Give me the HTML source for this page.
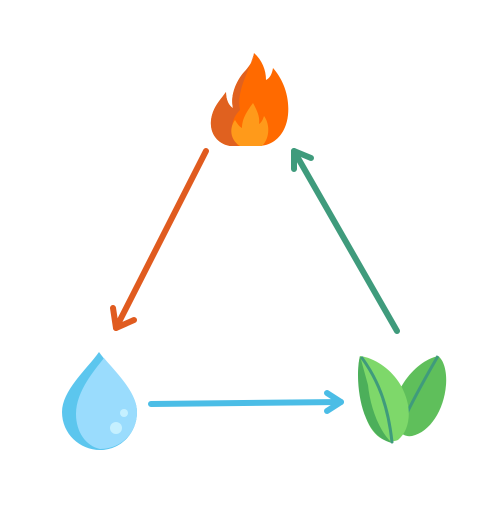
<!DOCTYPE html>
<html><head><style>html,body{margin:0;padding:0;background:#fff}</style></head>
<body>
<svg width="500" height="500" viewBox="0 0 500 500" xmlns="http://www.w3.org/2000/svg">
<g fill="none" stroke-linecap="round" stroke-linejoin="round" stroke-width="6">
  <g stroke="#e05b1f">
    <line x1="206" y1="151" x2="116" y2="328"/>
    <polyline points="113,308 116,328 134,320"/>
  </g>
  <g stroke="#4bbde6">
    <line x1="151" y1="404" x2="341" y2="402"/>
    <polyline points="327,393 341,402 327,411"/>
  </g>
  <g stroke="#3f9b7c">
    <line x1="397" y1="331" x2="294" y2="151"/>
    <polyline points="294,169 294,151 311,158"/>
  </g>
</g>
<!-- fire -->
<path d="M230,146 C214,143 207,128 213,112 C216,104 221,99 226,92 C226,100 229,106 233,108 C230,96 236,80 246,70 C252,63 254,57 254,53 C262,60 266,70 266,80 C270,78 272,74 273,68 C282,78 290,95 288,115 C286,134 274,146 258,146 Z" fill="#ff6a00"/>
<path d="M230,146 C214,143 207,128 213,112 C216,104 221,99 226,92 C226,100 229,106 233,108 C230,96 236,80 246,70 C252,63 254,57 254,53 C250,70 236,90 240,110 C232,118 228,130 238,146 Z" fill="#e0611f"/>
<path d="M240,146 C230,140 229,128 235,120 C238,125 240,127 242,128 C242,118 248,110 253,103 C258,112 260,118 259,124 C262,122 263,119 264,116 C270,124 270,138 262,146 Z" fill="#ff9a1a"/>
<!-- water drop -->
<path d="M99,352 C88,368 62,390 62,412 C62,434 80,450 100,450 C120,450 137,434 137,412 C137,390 110,368 99,352 Z" fill="#5cc6ee"/>
<path d="M104,358 C93,372 76,392 76,414 C76,432 86,446 100,449 C120,449 137,434 137,412 C137,392 114,370 104,358 Z" fill="#9adcfd"/>
<circle cx="124" cy="413" r="4" fill="#c5f0ff"/>
<circle cx="116" cy="428" r="6" fill="#c5f0ff"/>
<!-- leaves -->
<path d="M438,356 C420,360 400,380 394,405 C392,425 400,438 412,436 C430,432 444,410 446,385 C447,372 444,360 438,356 Z" fill="#5fbf5b"/>
<path d="M438,356 C424,380 410,405 400,428" stroke="#3f9b7c" stroke-width="3" fill="none"/>
<path d="M360,356 C376,358 396,372 404,392 C412,410 410,430 398,440 C385,445 372,435 366,418 C360,400 356,372 360,356 Z" fill="#7ed86a"/>
<path d="M360,356 C356,372 358,400 366,418 C372,432 380,440 392,443 C378,430 370,405 368,385 Z" fill="#4caf5a"/>
<path d="M362,358 C378,380 388,405 392,442" stroke="#3f9b7c" stroke-width="3" fill="none" stroke-linecap="round"/>
</svg>
</body></html>
